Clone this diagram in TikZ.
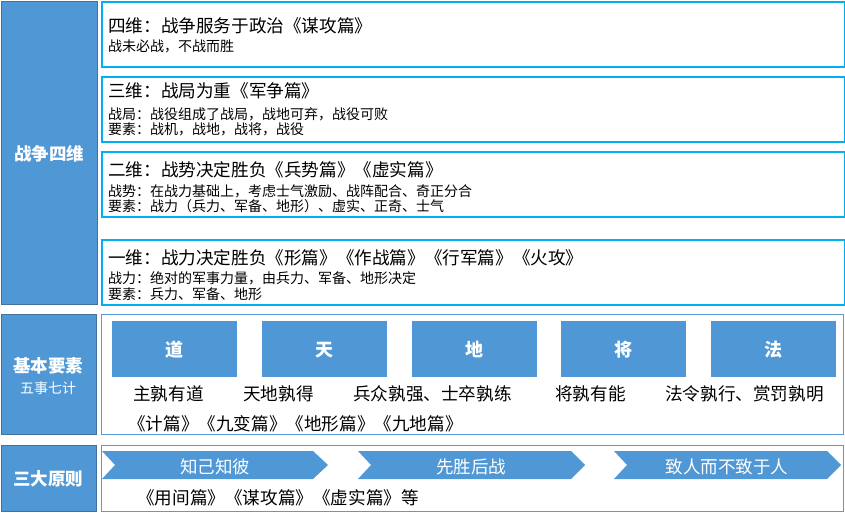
\documentclass[tikz,border=0pt]{standalone}
\usepackage{fontspec}
\setmainfont[Kerning=Off]{Noto Sans CJK SC}
\definecolor{fillblue}{RGB}{80,151,213}
\definecolor{edgeblue}{RGB}{65,113,156}
\definecolor{cyanedge}{RGB}{0,176,240}
\definecolor{lightedge}{RGB}{91,155,213}
\tikzset{
  leftbox/.style={draw=edgeblue, fill=fillblue, line width=1pt, inner sep=0pt, anchor=north west},
  rboxc/.style={draw=cyanedge, line width=1.8pt, inner sep=0pt, anchor=north west},
  rboxl/.style={draw=lightedge, line width=1.4pt, inner sep=0pt, anchor=north west},
  elembox/.style={fill=fillblue, inner sep=0pt, anchor=north west, minimum width=125pt, minimum height=56pt},
  txt/.style={inner sep=0pt, text height=0.88em, text depth=0.12em, yshift=-3.5pt},
  lefttxt/.style={txt, text=white, font=\bfseries\fontsize{17.5}{20}\selectfont},
  hd/.style={txt, anchor=west, font=\fontsize{17.6}{20}\selectfont},
  sb/.style={txt, anchor=west, font=\fontsize{14}{15}\selectfont},
  big/.style={txt, font=\fontsize{17.6}{20}\selectfont},
  elemtxt/.style={txt, text=white, font=\bfseries\fontsize{18}{20}\selectfont},
  chev/.style={fill=fillblue},
  chevtxt/.style={txt, text=white, font=\fontsize{17.5}{20}\selectfont}
}
\begin{document}
\begin{tikzpicture}[x=1pt,y=-1pt]
\useasboundingbox (0,0) rectangle (845,519);
% ---- section 1
\node[leftbox, minimum width=96pt, minimum height=303pt] (L1) at (1,1) {};
\node[lefttxt] (L1t) at (49,153) {战争四维};
\node[rboxc, minimum width=743pt, minimum height=65pt] (B1) at (101,1) {};
\node[rboxc, minimum width=743pt, minimum height=65pt] (B2) at (101,76) {};
\node[rboxc, minimum width=743pt, minimum height=65pt] (B3) at (101,151) {};
\node[rboxc, minimum width=743pt, minimum height=65pt] (B4) at (101,239) {};
\node[hd] (h1) at (108,25) {四维：战争服务于政治《谋攻篇》};
\node[sb] (s1) at (108,44) {战未必战，不战而胜};
\node[hd] (h2) at (108,90) {三维：战局为重《军争篇》};
\node[sb] (s2a) at (108,112) {战局：战役组成了战局，战地可弃，战役可败};
\node[sb] (s2b) at (108,127) {要素：战机，战地，战将，战役};
\node[hd] (h3) at (108,169) {二维：战势决定胜负《兵势篇》《虚实篇》};
\node[sb] (s3a) at (108,189) {战势：在战力基础上，考虑士气激励、战阵配合、奇正分合};
\node[sb] (s3b) at (108,204) {要素：战力（兵力、军备、地形）、虚实、正奇、士气};
\node[hd] (h4) at (108,257) {一维：战力决定胜负《形篇》《作战篇》《行军篇》《火攻》};
\node[sb] (s4a) at (108,276) {战力：绝对的军事力量，由兵力、军备、地形决定};
\node[sb] (s4b) at (108,292) {要素：兵力、军备、地形};
% ---- section 2
\node[leftbox, minimum width=95pt, minimum height=120pt] (L2) at (1,314) {};
\node[lefttxt] (L2t) at (48,365) {基本要素};
\node[txt, text=white, font=\fontsize{14}{16}\selectfont] (L2s) at (48,386) {五事七计};
\node[rboxl, minimum width=742pt, minimum height=120pt] (B5) at (101,314) {};
\node[elembox] (E1) at (112,321) {};
\node[elembox] (E2) at (262,321) {};
\node[elembox] (E3) at (412,321) {};
\node[elembox] (E4) at (561,321) {};
\node[elembox] (E5) at (711,321) {};
\node[elemtxt] at (E1.center) (E1t) {道};
\node[elemtxt] at (E2.center) (E2t) {天};
\node[elemtxt] at (E3.center) (E3t) {地};
\node[elemtxt] at (E4.center) (E4t) {将};
\node[elemtxt] at (E5.center) (E5t) {法};
\node[big, anchor=west] (D1) at (133,393) {主孰有道};
\node[big, anchor=west] (D2) at (243,393) {天地孰得};
\node[big, anchor=west] (D3) at (353,393) {兵众孰强、士卒孰练};
\node[big, anchor=west] (D4) at (555,393) {将孰有能};
\node[big, anchor=west] (D5) at (665,393) {法令孰行、赏罚孰明};
\node[big, anchor=west] (P2) at (128,423) {《计篇》《九变篇》《地形篇》《九地篇》};
% ---- section 3
\node[leftbox, minimum width=95pt, minimum height=66pt] (L3) at (1,445) {};
\node[lefttxt] (L3t) at (48,478) {三大原则};
\node[rboxl, minimum width=742pt, minimum height=66pt] (B6) at (101,445) {};
\fill[chev] (102,451) -- (313,451) -- (328,465) -- (313,479) -- (102,479) -- (115,465) -- cycle;
\fill[chev] (358,451) -- (571,451) -- (585,465) -- (571,479) -- (358,479) -- (371,465) -- cycle;
\fill[chev] (614,451) -- (827,451) -- (841,465) -- (827,479) -- (614,479) -- (627,465) -- cycle;
\node[chevtxt] (C1) at (215,466) {知己知彼};
\node[chevtxt] (C2) at (471,466) {先胜后战};
\node[chevtxt] (C3) at (727,466) {致人而不致于人};
\node[big, anchor=west] (P3) at (137,497) {《用间篇》《谋攻篇》《虚实篇》等};
\end{tikzpicture}
\end{document}
